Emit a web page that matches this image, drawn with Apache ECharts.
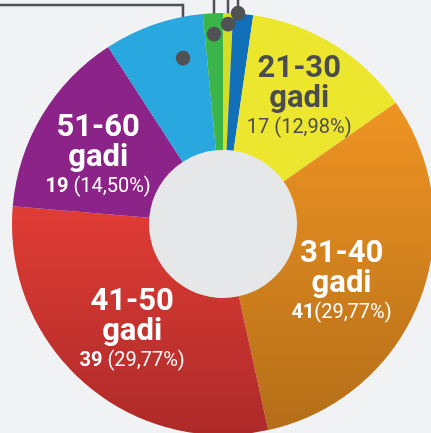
<!DOCTYPE html>
<html>
<head>
<meta charset="utf-8">
<script src="https://cdn.jsdelivr.net/npm/echarts@6/dist/echarts.min.js"></script>
<style>
  html, body { margin: 0; padding: 0; background: #f1f2f4; }
  #main { width: 431px; height: 433px; }
</style>
</head>
<body>
<div id="main"></div>
<script>
  // vecuma grupas (mazās grupas bez redzamiem nosaukumiem)
  var categories = ['g1', 'g2', '21-30', '31-40', '41-50', '51-60', 'g7', 'g8'];
  var counts = [1, 2, 17, 41, 39, 19, 10, 2];
  var countLabels = ['', '', '17', '41', '39', '19', '', ''];
  var pctLabels = ['', '', ' (12,98%)', '(29,77%)', ' (29,77%)', ' (14,50%)', '', ''];
  var unitLabel = 'gadi';

  var colors = [
    '#d4de26',
    '#1170b8',
    '#ede62f',
    new echarts.graphic.LinearGradient(0, 0, 0, 1, [{offset: 0, color: '#ef9423'}, {offset: 1, color: '#b46e18'}]),
    new echarts.graphic.LinearGradient(0, 0, 0, 1, [{offset: 0, color: '#e03c34'}, {offset: 1, color: '#ad2a29'}]),
    '#8b2389',
    '#29a7df',
    '#3bb44a'
  ];

  var cx = 223, cy = 224, r0 = 74, r1 = 211;
  // teksta nobīdes lielajām grupām
  var labelShift = {2: [0, -2], 3: [-17, 6], 4: [5, -2], 5: [0, 8]};
  // norāžu līnijas mazajām grupām: punkta rādiuss un leņķa nobīde
  var leaders = {
    0: {r: 200, da: 0},
    1: {r: 212, da: -1.5},
    6: {r: 171, da: 5.7, bendY: 5},
    7: {r: 190, da: 0}
  };
  var leaderColor = '#505155';

  var total = counts.reduce(function (a, b) { return a + b; }, 0);

  var chart = echarts.init(document.getElementById('main'));

  var mainData = counts.map(function (v, i) {
    var big = countLabels[i] !== '';
    return {
      name: categories[i],
      value: v,
      itemStyle: {color: colors[i]},
      label: {show: big}
    };
  });

  var leaderData = counts.map(function (v, i) {
    var on = leaders[i] !== undefined;
    return {
      name: categories[i],
      value: v,
      label: {show: on},
      labelLine: {show: on, lineStyle: {color: leaderColor, width: 2.5, opacity: 1}}
    };
  });

  var option = {
    backgroundColor: '#f1f2f4',
    animation: false,
    series: [
      {
        type: 'pie',
        silent: true,
        center: [cx, cy],
        radius: [0, r0],
        label: {show: false},
        labelLine: {show: false},
        itemStyle: {color: '#e6e7e9'},
        data: [{value: 1}]
      },
      {
        type: 'pie',
        silent: true,
        center: [cx, cy],
        radius: [r0, r1],
        startAngle: 90,
        clockwise: true,
        avoidLabelOverlap: false,
        itemStyle: {borderWidth: 0},
        labelLine: {show: false},
        label: {
          position: 'inside',
          fontFamily: 'Roboto',
          formatter: function (p) {
            var i = p.dataIndex;
            var dark = i === 2;
            return '{' + (dark ? 'td' : 't') + '|' + categories[i] + '}\n' +
              '{' + (dark ? 'td' : 't') + '|' + unitLabel + '}\n' +
              '{' + (dark ? 'pd' : 'n') + '|' + countLabels[i] + '}' +
              '{' + (dark ? 'pd' : 'p') + '|' + pctLabels[i] + '}';
          },
          rich: {
            t: {color: '#fff', fontFamily: 'Roboto', fontWeight: 'bold', fontSize: 31, lineHeight: 30, align: 'center'},
            td: {color: '#4b4c4e', fontFamily: 'Roboto', fontWeight: 'bold', fontSize: 31, lineHeight: 30, align: 'center'},
            n: {color: '#fff', fontFamily: 'Roboto', fontWeight: 'bold', fontSize: 20, lineHeight: 28},
            p: {color: '#fff', fontFamily: 'Roboto', fontSize: 20, lineHeight: 28},
            pd: {color: '#4b4c4e', fontFamily: 'Roboto', fontSize: 20, lineHeight: 28}
          }
        },
        labelLayout: function (params) {
          var s = labelShift[params.dataIndex];
          return s ? {dx: s[0], dy: s[1]} : {};
        },
        data: mainData
      },
      {
        type: 'pie',
        silent: true,
        center: [cx, cy],
        radius: [r0, r1],
        startAngle: 90,
        clockwise: true,
        avoidLabelOverlap: false,
        itemStyle: {color: 'rgba(0,0,0,0)'},
        label: {
          position: 'outside',
          formatter: '●',
          fontFamily: 'DejaVu Sans',
          fontSize: 19,
          lineHeight: 19,
          color: leaderColor
        },
        labelLine: {lineStyle: {color: leaderColor, width: 2.5, opacity: 1}},
        labelLayout: function (params) {
          var i = params.dataIndex;
          var ld = leaders[i];
          if (!ld) return {};
          var ang;
          if (params.labelLinePoints && params.labelLinePoints[0]) {
            var p0 = params.labelLinePoints[0];
            ang = Math.atan2(p0[1] - cy, p0[0] - cx);
          } else {
            var before = 0;
            for (var k = 0; k < i; k++) before += counts[k];
            ang = ((before + counts[i] / 2) / total * 360 - 90) * Math.PI / 180;
          }
          ang += ld.da * Math.PI / 180;
          var x = Math.round(cx + ld.r * Math.cos(ang));
          var y = Math.round(cy + ld.r * Math.sin(ang));
          var pts = ld.bendY !== undefined
            ? [[x, y], [x, ld.bendY], [-10, ld.bendY]]
            : [[x, y], [x, -5], [x, -10]];
          return {
            x: x,
            y: y,
            align: 'center',
            verticalAlign: 'middle',
            labelLinePoints: pts
          };
        },
        data: leaderData
      }
    ]
  };

  chart.setOption(option);
</script>
</body>
</html>
